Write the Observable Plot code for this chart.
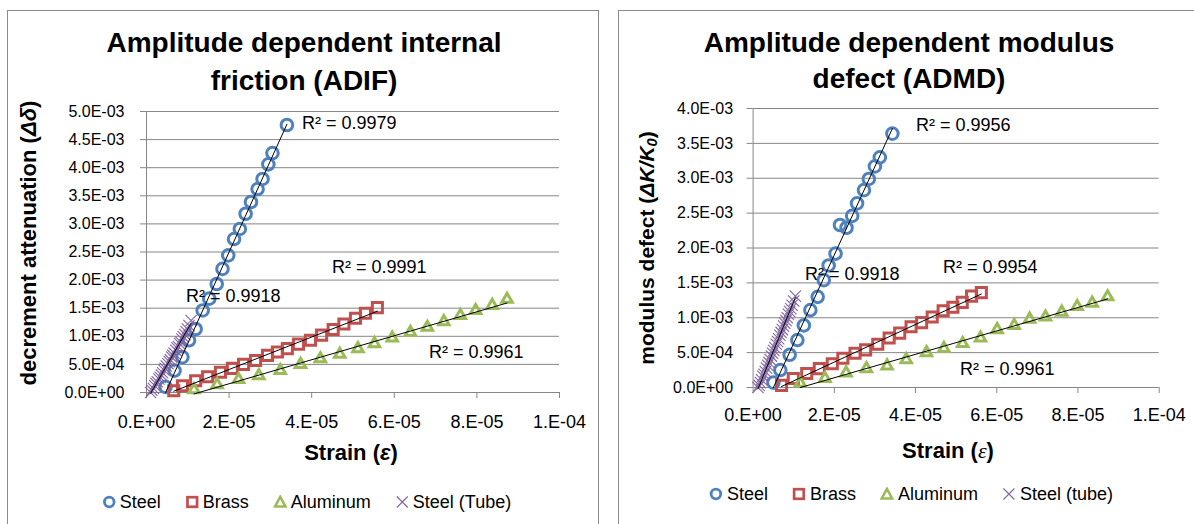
<!DOCTYPE html>
<html><head><meta charset="utf-8">
<script src="https://cdn.jsdelivr.net/npm/d3@7"></script>
<script src="https://cdn.jsdelivr.net/npm/@observablehq/plot@0.6"></script>
<style>
body{margin:0;background:#fff;}
#root{position:relative;width:1194px;height:524px;overflow:hidden;background:#fff;font-family:"Liberation Sans",Arial,sans-serif;color:#000;}
.abs{position:absolute;white-space:nowrap;line-height:1;}
.c{transform:translate(-50%,-50%);}
.l{transform:translate(0,-50%);}
.rot{transform:translate(-50%,-50%) rotate(-90deg);}
.panel{position:absolute;border:1px solid #8a8a8a;box-sizing:border-box;}
.title{font-weight:bold;font-size:28px;}
.axt{font-weight:bold;font-size:22px;}
.r2{font-size:18px;}
.legend{position:absolute;display:flex;align-items:center;gap:24px;font-size:18px;transform:translate(-50%,-50%);white-space:nowrap;line-height:1;}
.legend .it{display:flex;align-items:center;gap:4px;}
.plotbox{position:absolute;top:0;}
</style></head>
<body><div id="root"></div>
<script>
// ---------- shared axis ticks ----------
const xTicks = [0, 0.00002, 0.00004, 0.00006, 0.00008, 0.0001];
const xTickLabels = ["0.E+00", "2.E-05", "4.E-05", "6.E-05", "8.E-05", "1.E-04"];
const yTicksL = [0, 0.0005, 0.001, 0.0015, 0.002, 0.0025, 0.003, 0.0035, 0.004, 0.0045, 0.005];
const yTickLabelsL = ["0.0E+00","5.0E-04","1.0E-03","1.5E-03","2.0E-03","2.5E-03","3.0E-03","3.5E-03","4.0E-03","4.5E-03","5.0E-03"];
const yTicksR = [0, 0.0005, 0.001, 0.0015, 0.002, 0.0025, 0.003, 0.0035, 0.004];
const yTickLabelsR = ["0.0E+00","5.0E-04","1.0E-03","1.5E-03","2.0E-03","2.5E-03","3.0E-03","3.5E-03","4.0E-03"];

const seriesNames = ["Steel", "Brass", "Aluminum", "Steel (Tube)"];
const seriesNamesR = ["Steel", "Brass", "Aluminum", "Steel (tube)"];
const seriesColors = ["#4F81BD", "#C0504D", "#9BBB59", "#8064A2"];

// ---------- ADIF (left) ----------
const steelStrainL = [0.46e-5,0.68e-5,0.87e-5,1.03e-5,1.19e-5,1.36e-5,1.52e-5,1.70e-5,1.84e-5,1.98e-5,2.12e-5,2.26e-5,2.40e-5,2.53e-5,2.69e-5,2.81e-5,2.95e-5,3.05e-5,3.40e-5];
const steelDeltaL  = [0.10e-3,0.39e-3,0.63e-3,0.93e-3,1.13e-3,1.46e-3,1.67e-3,1.93e-3,2.20e-3,2.44e-3,2.73e-3,2.91e-3,3.18e-3,3.39e-3,3.62e-3,3.80e-3,4.06e-3,4.26e-3,4.76e-3];
const brassStrainL = [0.66e-5,0.87e-5,1.19e-5,1.48e-5,1.79e-5,2.08e-5,2.35e-5,2.64e-5,2.93e-5,3.17e-5,3.41e-5,3.68e-5,3.97e-5,4.24e-5,4.52e-5,4.78e-5,5.06e-5,5.30e-5,5.59e-5];
const brassDeltaL  = [0.03e-3,0.12e-3,0.21e-3,0.28e-3,0.36e-3,0.43e-3,0.50e-3,0.57e-3,0.66e-3,0.72e-3,0.78e-3,0.86e-3,0.93e-3,1.02e-3,1.12e-3,1.22e-3,1.32e-3,1.41e-3,1.51e-3];
const aluStrainL   = [1.15e-5,1.71e-5,2.23e-5,2.72e-5,3.24e-5,3.73e-5,4.21e-5,4.68e-5,5.12e-5,5.52e-5,5.95e-5,6.39e-5,6.80e-5,7.20e-5,7.60e-5,7.97e-5,8.37e-5,8.73e-5];
const aluDeltaL    = [0.05e-3,0.14e-3,0.23e-3,0.30e-3,0.39e-3,0.50e-3,0.60e-3,0.68e-3,0.78e-3,0.87e-3,0.97e-3,1.07e-3,1.16e-3,1.26e-3,1.37e-3,1.46e-3,1.55e-3,1.66e-3];
const tubeStrainL  = [0.10e-5,0.13e-5,0.17e-5,0.20e-5,0.23e-5,0.26e-5,0.30e-5,0.33e-5,0.36e-5,0.39e-5,0.42e-5,0.45e-5,0.48e-5,0.52e-5,0.55e-5,0.58e-5,0.61e-5,0.64e-5,0.67e-5,0.71e-5,0.74e-5,0.77e-5,0.80e-5,0.83e-5,0.86e-5,0.89e-5,0.93e-5,0.96e-5,0.99e-5,1.03e-5,1.08e-5];
const tubeDeltaL   = [0.00e-3,0.04e-3,0.07e-3,0.12e-3,0.16e-3,0.19e-3,0.24e-3,0.27e-3,0.31e-3,0.35e-3,0.40e-3,0.43e-3,0.47e-3,0.51e-3,0.55e-3,0.58e-3,0.63e-3,0.66e-3,0.70e-3,0.75e-3,0.79e-3,0.82e-3,0.87e-3,0.90e-3,0.95e-3,0.99e-3,1.03e-3,1.08e-3,1.13e-3,1.19e-3,1.28e-3];

// ---------- ADMD (right) ----------
const steelStrainR = [0.50e-5,0.67e-5,0.90e-5,1.09e-5,1.25e-5,1.41e-5,1.59e-5,1.74e-5,1.86e-5,2.03e-5,2.14e-5,2.30e-5,2.44e-5,2.56e-5,2.73e-5,2.85e-5,3.00e-5,3.12e-5,3.43e-5];
const steelDefectR = [0.07e-3,0.25e-3,0.47e-3,0.68e-3,0.89e-3,1.11e-3,1.30e-3,1.54e-3,1.75e-3,1.92e-3,2.33e-3,2.29e-3,2.46e-3,2.64e-3,2.83e-3,2.99e-3,3.17e-3,3.30e-3,3.64e-3];
const brassStrainR = [0.70e-5,0.99e-5,1.32e-5,1.63e-5,1.95e-5,2.21e-5,2.51e-5,2.77e-5,3.07e-5,3.35e-5,3.61e-5,3.89e-5,4.15e-5,4.41e-5,4.68e-5,4.92e-5,5.15e-5,5.38e-5,5.62e-5];
const brassDefectR = [0.03e-3,0.13e-3,0.20e-3,0.27e-3,0.34e-3,0.42e-3,0.49e-3,0.54e-3,0.62e-3,0.71e-3,0.78e-3,0.87e-3,0.93e-3,1.01e-3,1.10e-3,1.15e-3,1.22e-3,1.31e-3,1.36e-3];
const aluStrainR   = [1.16e-5,1.77e-5,2.29e-5,2.79e-5,3.30e-5,3.77e-5,4.27e-5,4.70e-5,5.16e-5,5.60e-5,6.01e-5,6.43e-5,6.81e-5,7.20e-5,7.60e-5,7.98e-5,8.35e-5,8.73e-5];
const aluDefectR   = [0.06e-3,0.13e-3,0.21e-3,0.27e-3,0.31e-3,0.40e-3,0.50e-3,0.56e-3,0.63e-3,0.71e-3,0.83e-3,0.89e-3,0.98e-3,1.01e-3,1.08e-3,1.16e-3,1.21e-3,1.30e-3];
const tubeStrainR  = [0.12e-5,0.15e-5,0.18e-5,0.21e-5,0.24e-5,0.27e-5,0.30e-5,0.33e-5,0.36e-5,0.39e-5,0.42e-5,0.45e-5,0.48e-5,0.51e-5,0.54e-5,0.57e-5,0.60e-5,0.63e-5,0.66e-5,0.69e-5,0.72e-5,0.75e-5,0.78e-5,0.81e-5,0.84e-5,0.87e-5,0.90e-5,0.93e-5,0.96e-5,1.00e-5,1.04e-5];
const tubeDefectR  = [0.00e-3,0.03e-3,0.07e-3,0.11e-3,0.16e-3,0.19e-3,0.23e-3,0.28e-3,0.32e-3,0.36e-3,0.40e-3,0.45e-3,0.49e-3,0.53e-3,0.57e-3,0.62e-3,0.66e-3,0.70e-3,0.75e-3,0.79e-3,0.83e-3,0.88e-3,0.92e-3,0.96e-3,1.00e-3,1.05e-3,1.09e-3,1.13e-3,1.18e-3,1.24e-3,1.31e-3];

const r2L = ["R² = 0.9979", "R² = 0.9991", "R² = 0.9918", "R² = 0.9961"];
const r2R = ["R² = 0.9956", "R² = 0.9954", "R² = 0.9918", "R² = 0.9961"];

// ---------- helpers ----------
const rows = (xs, ys) => xs.map((x, i) => ({x, y: ys[i]}));
const GRID = "#868686";

function chart(o) {
  const S = [rows(o.s[0], o.s[1]), rows(o.b[0], o.b[1]), rows(o.a[0], o.a[1]), rows(o.t[0], o.t[1])];
  const reg = d => Plot.linearRegressionY(d, {x: "x", y: "y", stroke: "#000", strokeWidth: 1, ci: 0});
  return Plot.plot({
    width: o.width, height: 524,
    marginLeft: o.ml, marginRight: o.mr, marginTop: o.mt, marginBottom: o.mb,
    x: {domain: [0, 1e-4], label: null},
    y: {domain: [0, o.yTicks[o.yTicks.length - 1]], label: null},
    style: {fontFamily: "Liberation Sans, Arial, sans-serif", fontSize: "16px", background: "transparent", color: "#000", overflow: "visible"},
    marks: [
      Plot.gridY(o.yTicks.slice(1), {stroke: GRID, strokeOpacity: 1, strokeWidth: 1}),
      Plot.axisY(o.yTicks, {tickFormat: d => o.yLabels[o.yTicks.indexOf(d)], tickSize: 6, tickPadding: o.ytp, stroke: GRID, fill: "#000", fontSize: 16, label: null}),
      Plot.axisX(xTicks, {tickFormat: d => xTickLabels[xTicks.indexOf(d)], tickSize: 6, tickPadding: o.xtp, stroke: GRID, fill: "#000", fontSize: 18, label: null}),
      Plot.ruleX([0], {stroke: GRID}),
      Plot.ruleY([0], {stroke: GRID}),
      Plot.dot(S[0], {x: "x", y: "y", symbol: "circle", r: 5.8, stroke: seriesColors[0], strokeWidth: 3, fill: "none"}),
      Plot.dot(S[1], {x: "x", y: "y", symbol: "square", r: 5.7, stroke: seriesColors[1], strokeWidth: 3, fill: "none"}),
      Plot.dot(S[2], {x: "x", y: "y", symbol: "triangle", r: 3.9, stroke: seriesColors[2], strokeWidth: 3, fill: "none"}),
      Plot.dot(S[3], {x: "x", y: "y", symbol: "times", r: 5.2, stroke: seriesColors[3], strokeWidth: 1.1}),
      reg(S[0]), reg(S[1]), reg(S[2]), reg(S[3])
    ]
  });
}

function symbolSvg(i) {
  const c = seriesColors[i];
  let inner;
  if (i === 0) inner = `<circle cx="7" cy="7" r="4.8" fill="none" stroke="${c}" stroke-width="2.8"/>`;
  else if (i === 1) inner = `<rect x="2.2" y="2.2" width="9.6" height="9.6" fill="none" stroke="${c}" stroke-width="2.7"/>`;
  else if (i === 2) inner = `<path d="M7 1.8 L12.3 11.6 L1.7 11.6 Z" fill="none" stroke="${c}" stroke-width="2.5"/>`;
  else inner = `<path d="M1.5 1.5 L12.5 12.5 M12.5 1.5 L1.5 12.5" stroke="${c}" stroke-width="1.1"/>`;
  return `<svg width="14" height="14" style="display:block">${inner}</svg>`;
}

const root = document.getElementById("root");
function add(html) { root.insertAdjacentHTML("beforeend", html); }

// panels
add(`<div class="panel" style="left:7px;top:10px;width:592px;height:560px"></div>`);
add(`<div class="panel" style="left:618px;top:10px;width:640px;height:560px"></div>`);

// plots
const left = chart({width: 600, ml: 146, mr: 41, mt: 111, mb: 132, ytp: 16, xtp: 17,
  yTicks: yTicksL, yLabels: yTickLabelsL,
  s: [steelStrainL, steelDeltaL], b: [brassStrainL, brassDeltaL], a: [aluStrainL, aluDeltaL], t: [tubeStrainL, tubeDeltaL]});
const lbox = document.createElement("div"); lbox.className = "plotbox"; lbox.style.left = "0px"; lbox.appendChild(left); root.appendChild(lbox);

const right = chart({width: 594, ml: 152.6, mr: 35.3, mt: 108, mb: 137, ytp: 14, xtp: 14.5,
  yTicks: yTicksR, yLabels: yTickLabelsR,
  s: [steelStrainR, steelDefectR], b: [brassStrainR, brassDefectR], a: [aluStrainR, aluDefectR], t: [tubeStrainR, tubeDefectR]});
const rbox = document.createElement("div"); rbox.className = "plotbox"; rbox.style.left = "600px"; rbox.appendChild(right); root.appendChild(rbox);

// titles
add(`<div class="abs c title" style="left:304px;top:43px">Amplitude dependent internal</div>`);
add(`<div class="abs c title" style="left:304px;top:80.5px">friction (ADIF)</div>`);
add(`<div class="abs c title" style="left:909px;top:43px">Amplitude dependent modulus</div>`);
add(`<div class="abs c title" style="left:909px;top:78.5px">defect (ADMD)</div>`);

// axis titles
add(`<div class="abs c axt" style="left:351px;top:453px">Strain (<i>ε</i>)</div>`);
add(`<div class="abs c axt" style="left:948px;top:451px">Strain (<span style="font-family:'Liberation Serif',serif;font-weight:normal;font-style:italic">ε</span>)</div>`);
add(`<div class="abs rot axt" style="left:29px;top:243px">decrement attenuation (<i>Δδ</i>)</div>`);
add(`<div class="abs rot axt" style="left:648px;top:248px;font-size:21px">modulus defect (<i>ΔK/K<sub style="font-size:0.7em;vertical-align:-0.2em">0</sub></i>)</div>`);

// R² labels
add(`<div class="abs l r2" style="left:302px;top:123px">${r2L[0]}</div>`);
add(`<div class="abs l r2" style="left:332px;top:267px">${r2L[1]}</div>`);
add(`<div class="abs l r2" style="left:186px;top:296px">${r2L[2]}</div>`);
add(`<div class="abs l r2" style="left:429px;top:352px">${r2L[3]}</div>`);
add(`<div class="abs l r2" style="left:916px;top:125px">${r2R[0]}</div>`);
add(`<div class="abs l r2" style="left:943px;top:267px">${r2R[1]}</div>`);
add(`<div class="abs l r2" style="left:805px;top:274px">${r2R[2]}</div>`);
add(`<div class="abs l r2" style="left:960px;top:369px">${r2R[3]}</div>`);

// legends
function legend(names, cx, cy) {
  const items = names.map((n, i) => `<div class="it">${symbolSvg(i)}<span>${n}</span></div>`).join("");
  add(`<div class="legend" style="left:${cx}px;top:${cy}px">${items}</div>`);
}
legend(seriesNames, 306.5, 502);
legend(seriesNamesR, 911, 494);
</script>
</body></html>
